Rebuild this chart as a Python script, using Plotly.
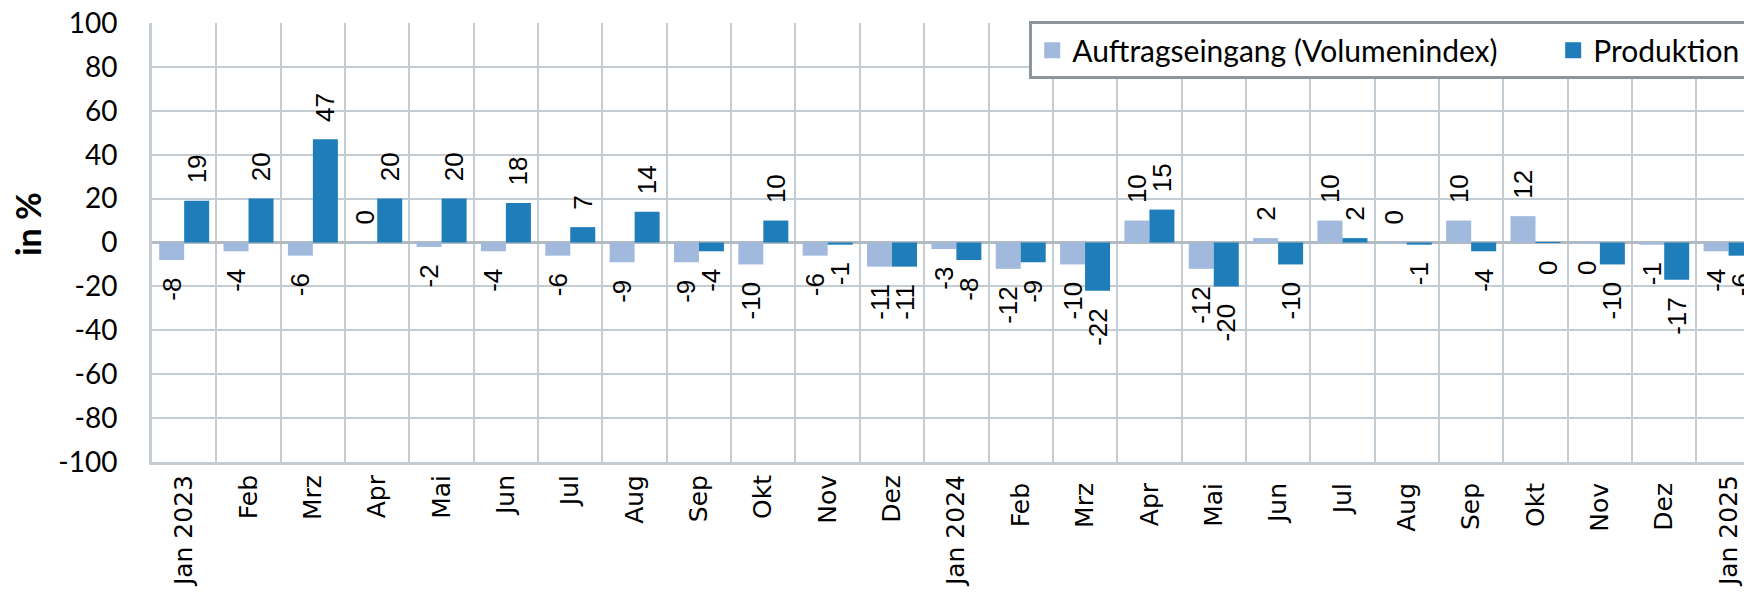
import plotly.graph_objects as go

categories = ["Jan 2023", "Feb", "Mrz", "Apr", "Mai", "Jun", "Jul", "Aug", "Sep", "Okt", "Nov", "Dez",
              "Jan 2024", "Feb ", "Mrz ", "Apr ", "Mai ", "Jun ", "Jul ", "Aug ", "Sep ", "Okt ", "Nov ", "Dez ",
              "Jan 2025"]
auftragseingang = [-8, -4, -6, 0.2, -2, -4, -6, -9, -9, -10, -6, -11,
                   -3, -12, -10, 10, -12, 2, 10, 0.2, 10, 12, -0.2, -1,
                   -4]
produktion = [19, 20, 47, 20, 20, 18, 7, 14, -4, 10, -1, -11,
              -8, -9, -22, 15, -20, -10, 2, -1, -4, -0.2, -10, -17,
              -6]
y_ticks = [-100, -80, -60, -40, -20, 0, 20, 40, 60, 80, 100]
y_tick_text = [str(v) for v in y_ticks]

NB = "\u00a0"


def labels(vals):
    out = []
    for v in vals:
        s = str(int(round(v)))
        if v >= 0:
            out.append(NB * 2 + s)
        else:
            out.append(s + NB * 2)
    return out


light = "#A1B9DD"
dark = "#1F7DB9"
grid = "#C5CDD4"

fig = go.Figure()
for name, vals, col in [("Auftragseingang (Volumenindex)", auftragseingang, light),
                        ("Produktion", produktion, dark)]:
    fig.add_trace(go.Bar(
        x=categories, y=vals, name=name, marker=dict(color=col, line=dict(width=0)),
        text=labels(vals), textposition="outside", textangle=-90, constraintext="none",
        textfont=dict(family="Liberation Sans", size=26, color="#000000"),
        cliponaxis=True, showlegend=False,
    ))
    fig.add_trace(go.Scatter(
        x=[None], y=[None], mode="markers", name=name,
        marker=dict(symbol="square", size=18, color=col), showlegend=True,
    ))

fig.update_layout(
    width=1744, height=598,
    margin=dict(l=152, r=0, t=23, b=136, pad=0, autoexpand=False),
    paper_bgcolor="white", plot_bgcolor="white",
    barmode="group", bargap=0.223, bargroupgap=0,
    showlegend=True,
    legend=dict(orientation="h", x=0.551, xanchor="left", y=1.004, yanchor="top",
                bgcolor="white", bordercolor="#8C969C", borderwidth=3,
                font=dict(family="Lato", size=30, color="#000000"),
                entrywidth=476, entrywidthmode="pixels",
                itemsizing="trace"),
    xaxis=dict(type="category", range=[-0.5, 24.24], tickson="boundaries", automargin=False,
               showgrid=True, gridcolor=grid, gridwidth=2,
               showline=True, linecolor=grid, linewidth=3,
               ticks="outside", ticklen=18, tickcolor="rgba(0,0,0,0)",
               tickangle=-90, tickfont=dict(family="DejaVu Sans", size=25, color="#000000"),
               fixedrange=True),
    yaxis=dict(range=[-100, 100], tickvals=y_ticks, ticktext=y_tick_text, automargin=False,
               showgrid=True, gridcolor=grid, gridwidth=2,
               zeroline=True, zerolinecolor="#B3BBC2", zerolinewidth=3,
               showline=True, linecolor=grid, linewidth=3,
               ticks="", ticklabelstandoff=26,
               tickfont=dict(family="Lato", size=28, color="#000000"),
               fixedrange=True),
    annotations=[dict(text="<b>in %</b>", xref="paper", yref="paper", x=-0.0785, y=0.542,
                      xanchor="center", yanchor="middle", textangle=-90, showarrow=False,
                      font=dict(family="Lato", size=34, color="#000000"))],
)

fig.write_html("out.html", config={"displayModeBar": False},
               post_script="document.body.style.margin='0px';document.body.style.overflow='hidden';")
